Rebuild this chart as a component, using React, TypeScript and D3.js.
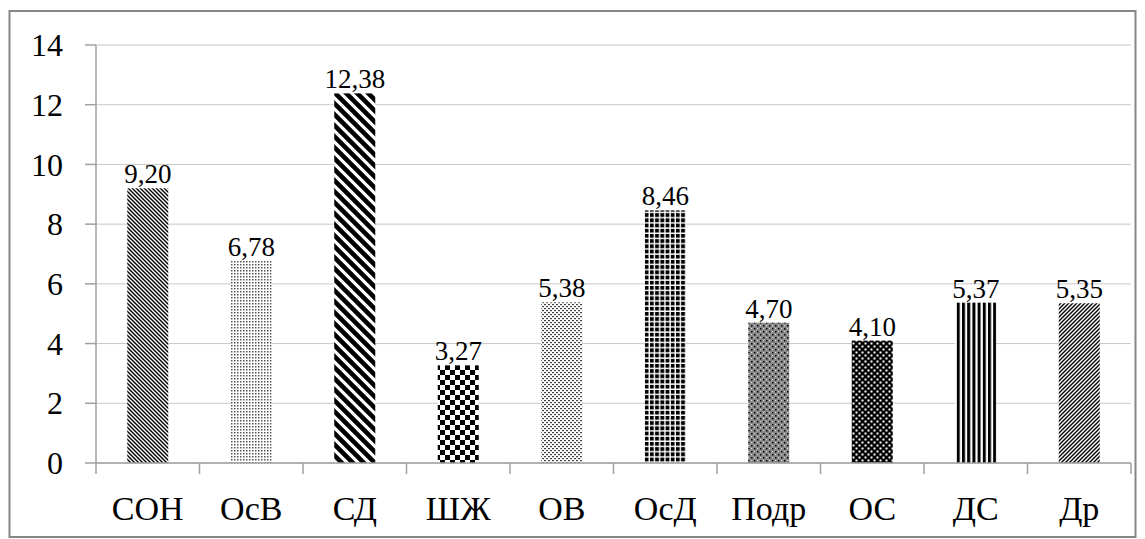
import React, { useEffect } from "react";
import * as d3 from "d3";

const categories = ["СОН", "ОсВ", "СД", "ШЖ", "ОВ", "ОсД", "Подр", "ОС", "ДС", "Др"];
const values = [9.2, 6.78, 12.38, 3.27, 5.38, 8.46, 4.7, 4.1, 5.37, 5.35];
const valueLabels = ["9,20", "6,78", "12,38", "3,27", "5,38", "8,46", "4,70", "4,10", "5,37", "5,35"];
const yTicks = [0, 2, 4, 6, 8, 10, 12, 14];
const patternIds = ["p0", "p1", "p2", "p3", "p4", "p5", "p6", "p7", "p8", "p9"];

const W = 1145;
const H = 539;
const FONT = '"Liberation Serif", "Times New Roman", "DejaVu Serif", serif';
const AXIS = "#a0a0a0";

function Patterns() {
  return (
    <defs>
      <pattern id="p0" patternUnits="userSpaceOnUse" width={4} height={4}>
        <rect width={4} height={4} fill="#fff" />
        <path d="M-1,-1 L5,5 M-1,3 L1,5 M3,-1 L5,1" stroke="#000" strokeWidth={1.4} />
      </pattern>
      <pattern id="p1" patternUnits="userSpaceOnUse" width={3} height={3}>
        <rect width={3} height={3} fill="#fff" />
        <rect width={1.5} height={1.5} fill="#555" />
      </pattern>
      <pattern id="p2" patternUnits="userSpaceOnUse" width={11} height={11}>
        <rect width={11} height={11} fill="#fff" />
        <path d="M-2,-2 L13,13 M-2,9 L2,13 M9,-2 L13,2" stroke="#000" strokeWidth={4.6} />
      </pattern>
      <pattern id="p3" patternUnits="userSpaceOnUse" width={10} height={10}>
        <rect width={10} height={10} fill="#fff" />
        <rect width={5} height={5} fill="#000" />
        <rect x={5} y={5} width={5} height={5} fill="#000" />
      </pattern>
      <pattern id="p4" patternUnits="userSpaceOnUse" width={4} height={4}>
        <rect width={4} height={4} fill="#fff" />
        <rect x={0} y={0} width={2} height={1.2} fill="#444" />
        <rect x={2} y={2} width={2} height={1.2} fill="#444" />
      </pattern>
      <pattern id="p5" patternUnits="userSpaceOnUse" width={5.2} height={5.2}>
        <rect width={5.2} height={5.2} fill="#fff" />
        <rect width={3.8} height={3.8} fill="#000" />
      </pattern>
      <pattern id="p6" patternUnits="userSpaceOnUse" width={6} height={6}>
        <rect width={6} height={6} fill="#8a8a8a" />
        <rect x={1} y={1} width={1.5} height={1.5} fill="#000" />
        <rect x={4} y={4} width={1.5} height={1.5} fill="#000" />
        <rect x={4} y={1} width={1} height={1} fill="#ddd" />
        <rect x={1} y={4} width={1} height={1} fill="#ddd" />
      </pattern>
      <pattern id="p7" patternUnits="userSpaceOnUse" width={6} height={6}>
        <rect width={6} height={6} fill="#000" />
        <rect x={0.5} y={0.5} width={2} height={2} fill="#fff" />
        <rect x={3.5} y={3.5} width={2} height={2} fill="#fff" />
      </pattern>
      <pattern id="p8" patternUnits="userSpaceOnUse" width={5.2} height={5}>
        <rect width={5.2} height={5} fill="#fff" />
        <rect width={3} height={5} fill="#000" />
      </pattern>
      <pattern id="p9" patternUnits="userSpaceOnUse" width={4} height={4}>
        <rect width={4} height={4} fill="#fff" />
        <path d="M-1,5 L5,-1 M-1,1 L1,-1 M3,5 L5,3" stroke="#000" strokeWidth={1.4} />
      </pattern>
    </defs>
  );
}

export default function App() {
  useEffect(() => {
    document.body.style.margin = "0";
  }, []);

  const x = d3.scaleBand<string>().domain(categories).range([96, 1131]).paddingInner(0).paddingOuter(0);
  const y = d3.scaleLinear().domain([0, 14]).range([463, 45]);
  const barW = 41;
  const bounds = d3.range(categories.length + 1).map((i) => 96 + i * x.bandwidth());
  const textStyle = { fontFamily: FONT };

  return (
    <svg width={W} height={H} style={{ display: "block", position: "absolute", left: 0, top: 0 }}>
      <Patterns />
      <rect x={0} y={0} width={W} height={H} fill="#fff" />
      <rect x={9.5} y={11} width={1126} height={526} fill="#fff" stroke="#868686" strokeWidth={2} />
      {yTicks.map((t) => (
        <line key={"g" + t} x1={96} x2={1131} y1={y(t)} y2={y(t)} stroke="#c8c8c8" strokeWidth={1} />
      ))}
      {categories.map((c, i) => (
        <rect
          key={c}
          x={(x(c) as number) + x.bandwidth() / 2 - barW / 2}
          y={y(values[i])}
          width={barW}
          height={y(0) - y(values[i])}
          fill={`url(#${patternIds[i]})`}
        />
      ))}
      <line x1={96} x2={96} y1={y(14)} y2={y(0)} stroke={AXIS} strokeWidth={1.5} />
      {yTicks.map((t) => (
        <g key={"t" + t}>
          <line x1={85} x2={96} y1={y(t)} y2={y(t)} stroke={AXIS} strokeWidth={1.5} />
          <text x={63} y={y(t)} dy="0.35em" textAnchor="end" style={textStyle} fontSize={32} fill="#000">
            {t}
          </text>
        </g>
      ))}
      <line x1={96} x2={1131} y1={y(0)} y2={y(0)} stroke={AXIS} strokeWidth={1.5} />
      {bounds.map((b, i) => (
        <line key={"xb" + i} x1={b} x2={b} y1={y(0)} y2={y(0) + 11} stroke={AXIS} strokeWidth={1.5} />
      ))}
      {categories.map((c) => (
        <text
          key={"l" + c}
          x={(x(c) as number) + x.bandwidth() / 2}
          y={520}
          textAnchor="middle"
          style={textStyle}
          fontSize={34}
          fill="#000"
        >
          {c}
        </text>
      ))}
      {categories.map((c, i) => (
        <text
          key={"v" + c}
          x={(x(c) as number) + x.bandwidth() / 2}
          y={y(values[i]) - 5}
          textAnchor="middle"
          style={textStyle}
          fontSize={27}
          fill="#000"
        >
          {valueLabels[i]}
        </text>
      ))}
    </svg>
  );
}
